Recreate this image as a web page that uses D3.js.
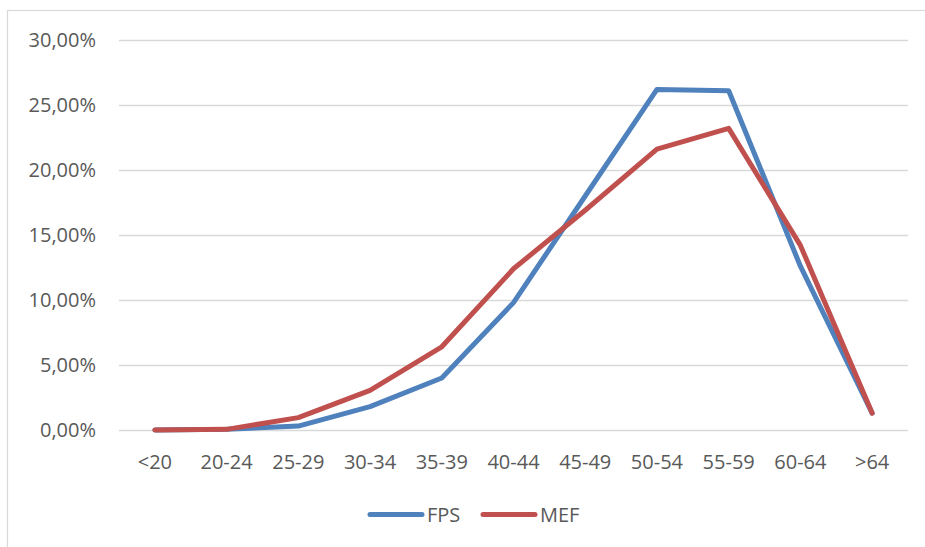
<!DOCTYPE html>
<html><head><meta charset="utf-8">
<script src="https://cdn.jsdelivr.net/npm/d3@7/dist/d3.min.js"></script>
<style>html,body{margin:0;padding:0;background:#fff;} svg{display:block;}</style>
</head><body>
<svg id="chart" width="925" height="547"></svg>
<script>
const categories = ["<20","20-24","25-29","30-34","35-39","40-44","45-49","50-54","55-59","60-64",">64"];
const fps = [0.00, 0.05, 0.30, 1.80, 4.00, 9.80, 18.00, 26.20, 26.10, 12.60, 1.30];
const mef = [0.00, 0.05, 0.95, 3.05, 6.40, 12.40, 16.90, 21.60, 23.20, 14.20, 1.30];
const yTicks = [0, 5, 10, 15, 20, 25, 30];
const seriesNames = ["FPS", "MEF"];
const seriesColors = ["#4F81BD", "#C0504D"];

(function () {
const svg = d3.select("#chart");
const font = "'Open Sans', 'Liberation Sans', sans-serif";
const textColor = "#595959";
const fs = 20;

// frame
svg.append("rect").attr("x", 7.5).attr("y", 10.5).attr("width", 940).attr("height", 560)
  .attr("fill", "none").attr("stroke", "#D9D9D9").attr("stroke-width", 1.2);

const pLeft = 119, pRight = 908, pTop = 40, pBottom = 430;
const x = d3.scaleBand().domain(categories).range([pLeft, pRight]).padding(0);
const y = d3.scaleLinear().domain([0, 30]).range([pBottom, pTop]);

// grid
svg.append("g").selectAll("line").data(yTicks).join("line")
  .attr("x1", pLeft).attr("x2", pRight)
  .attr("y1", d => Math.round(y(d)) + 0.5).attr("y2", d => Math.round(y(d)) + 0.5)
  .attr("stroke", "#D9D9D9").attr("stroke-width", 1.3);

// y labels
svg.append("g").selectAll("text").data(yTicks).join("text")
  .attr("x", 96).attr("y", d => y(d)).attr("dy", "0.35em")
  .attr("text-anchor", "end").attr("font-family", font).attr("font-size", fs)
  .attr("fill", textColor)
  .text(d => d3.format(".2f")(d).replace(".", ",") + "%");

// x labels
svg.append("g").selectAll("text").data(categories).join("text")
  .attr("x", d => x(d) + x.bandwidth() / 2).attr("y", 462).attr("dy", "0.35em")
  .attr("text-anchor", "middle").attr("font-family", font).attr("font-size", fs)
  .attr("fill", textColor).text(d => d);

const line = d3.line().x((d, i) => x(categories[i]) + x.bandwidth() / 2).y(d => y(d));
[fps, mef].forEach((s, k) => {
  svg.append("path").datum(s).attr("d", line).attr("fill", "none")
    .attr("stroke", seriesColors[k]).attr("stroke-width", 5)
    .attr("stroke-linejoin", "round").attr("stroke-linecap", "round");
});

// legend
const legendItems = [{x: 368, tx: 427}, {x: 481, tx: 540}];
seriesNames.forEach((n, k) => {
  const g = svg.append("g");
  g.append("line").attr("x1", legendItems[k].x + 2).attr("x2", legendItems[k].x + 54)
    .attr("y1", 514.5).attr("y2", 514.5)
    .attr("stroke", seriesColors[k]).attr("stroke-width", 5).attr("stroke-linecap", "round");
  g.append("text").attr("x", legendItems[k].tx).attr("y", 514.5).attr("dy", "0.35em")
    .attr("font-family", font).attr("font-size", fs).attr("fill", textColor).text(n);
});
})();
</script>
</body></html>
